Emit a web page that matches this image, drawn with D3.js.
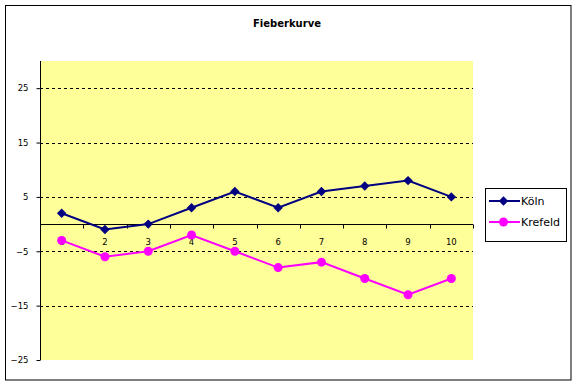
<!DOCTYPE html>
<html><head><meta charset="utf-8">
<script src="https://cdn.jsdelivr.net/npm/d3@7"></script>
<style>body{margin:0;background:#fff}svg{display:block;font-family:"DejaVu Sans",Verdana,sans-serif}</style>
</head><body><svg id="c" width="577" height="385"></svg>
<script>
const categories = ["1","2","3","4","5","6","7","8","9","10"];
const koeln = [2,-1,0,3,6,3,6,7,8,5];
const krefeld = [-3,-6,-5,-2,-5,-8,-7,-10,-13,-10];
const yTicks = [-25,-15,-5,5,15,25];
const seriesNames = ["Köln","Krefeld"];
const seriesColors = ["#000080","#FF00FF"];

const svg = d3.select("#c");
svg.append("rect").attr("x",5.5).attr("y",5.5).attr("width",565.5).attr("height",374.5)
  .attr("fill","#fff").attr("stroke","#000").attr("stroke-width",1);
svg.append("text").attr("x",287).attr("y",27).attr("text-anchor","middle")
  .attr("font-size",10).attr("font-weight","bold").text("Fieberkurve");

const L=40,R=473,T=61,B=360;
const x = d3.scaleBand().domain(categories).range([L,R]);
const y = d3.scaleLinear().domain([-25,30]).range([B,T]);

svg.append("rect").attr("x",L).attr("y",T).attr("width",R-L).attr("height",B-T).attr("fill","#FFFF99");

// gridlines
svg.append("g").selectAll("line").data(yTicks.filter(d=>d!==-25)).join("line")
  .attr("x1",L).attr("x2",R).attr("y1",d=>Math.round(y(d))+0.5).attr("y2",d=>Math.round(y(d))+0.5)
  .attr("stroke","#000").attr("stroke-dasharray","3,3");

// y axis
const ya = svg.append("g").attr("transform",`translate(${L+0.5},0)`)
  .call(d3.axisLeft(y).tickValues(yTicks).tickSize(4).tickSizeOuter(0));
ya.select(".domain").attr("d",`M0,${T}V${B}`);
ya.selectAll("text").attr("font-size",8.5).attr("font-family","DejaVu Sans, sans-serif").attr("dx",-5);

// x axis at zero
const y0 = Math.round(y(0))+0.5;
const xa = svg.append("g").attr("transform",`translate(0,${y0})`)
  .call(d3.axisBottom(x).tickSize(0).tickSizeOuter(0));
xa.select(".domain").attr("d",`M${L},0H${R}`);
xa.selectAll("text").attr("font-size",8.5).attr("font-family","DejaVu Sans, sans-serif")
  .attr("y",20).attr("dy",0).attr("fill","#000");
// ticks at band boundaries
svg.append("g").selectAll("line").data(categories).join("line")
  .attr("x1",(d,i)=>Math.round(L+x.step()*(i+1))+0.5).attr("x2",(d,i)=>Math.round(L+x.step()*(i+1))+0.5)
  .attr("y1",y0).attr("y2",y0+4).attr("stroke","#000");

const line = d3.line().x((d,i)=>x(categories[i])+x.bandwidth()/2).y(d=>y(d));

function drawSeries(vals,color,shape){
  svg.append("path").datum(vals).attr("d",line).attr("fill","none").attr("stroke",color).attr("stroke-width",2);
  const g = svg.append("g");
  vals.forEach((v,i)=>{
    const cx = x(categories[i])+x.bandwidth()/2, cy=y(v);
    if(shape==="diamond") g.append("path").attr("d",d3.symbol().type(d3.symbolSquare).size(44)()).attr("transform",`translate(${cx},${cy}) rotate(45)`).attr("fill",color);
    else g.append("circle").attr("cx",cx).attr("cy",cy).attr("r",4.5).attr("fill",color);
  });
}
drawSeries(koeln,seriesColors[0],"diamond");
drawSeries(krefeld,seriesColors[1],"circle");

// legend
svg.append("rect").attr("x",485.5).attr("y",188.5).attr("width",81).attr("height",53).attr("fill","#fff").attr("stroke","#000");
seriesNames.forEach((n,i)=>{
  const ly = 201 + i*21;
  svg.append("line").attr("x1",489).attr("x2",520).attr("y1",ly).attr("y2",ly).attr("stroke",seriesColors[i]).attr("stroke-width",2);
  if(i===0) svg.append("path").attr("d",d3.symbol().type(d3.symbolSquare).size(44)()).attr("transform",`translate(503.5,${ly}) rotate(45)`).attr("fill",seriesColors[i]);
  else svg.append("circle").attr("cx",503.5).attr("cy",ly).attr("r",4.5).attr("fill",seriesColors[i]);
  svg.append("text").attr("x",521).attr("y",ly+4).attr("font-size",11).text(n);
});
</script></body></html>
